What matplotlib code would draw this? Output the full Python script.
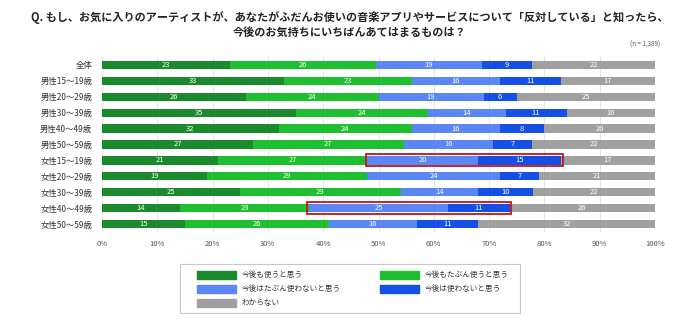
import matplotlib
matplotlib.use("Agg")
import matplotlib.pyplot as plt
from matplotlib.patches import Rectangle
import numpy as np

plt.rcParams['font.family'] = ['Noto Sans CJK JP', 'DejaVu Sans']

categories = ["全体", "男性15～19歳", "男性20～29歳", "男性30～39歳", "男性40～49歳", "男性50～59歳",
              "女性15～19歳", "女性20～29歳", "女性30～39歳", "女性40～49歳", "女性50～59歳"]
series_names = ["今後も使うと思う", "今後もたぶん使うと思う", "今後はたぶん使わないと思う",
                "今後は使わないと思う", "わからない"]
use_yes = [23, 33, 26, 35, 32, 27, 21, 19, 25, 14, 15]
use_maybe = [26, 23, 24, 24, 24, 27, 27, 29, 29, 23, 26]
notuse_maybe = [19, 16, 19, 14, 16, 16, 20, 24, 14, 25, 16]
notuse = [9, 11, 6, 11, 8, 7, 15, 7, 10, 11, 11]
unknown = [22, 17, 25, 16, 20, 22, 17, 21, 22, 26, 32]
xticks = [0, 10, 20, 30, 40, 50, 60, 70, 80, 90, 100]
highlight_rows = ["女性15～19歳", "女性40～49歳"]
highlight_series = [2, 3]

colors = ["#1a8a2c", "#1fbf32", "#5b86f5", "#1450e6", "#a0a0a0"]

data = np.array([use_yes, use_maybe, notuse_maybe, notuse, unknown], dtype=float)
pct = data / data.sum(axis=0) * 100

fig = plt.figure(figsize=(7.0, 3.26), dpi=100)
ax = fig.add_axes([102/700, 1-232/326, 553/700, 175/326])

y = np.arange(len(categories))
left = np.zeros(len(categories))
for i in range(5):
    ax.barh(y, pct[i], left=left, height=0.52, color=colors[i], zorder=2)
    for j in range(len(categories)):
        ax.text(left[j] + pct[i][j]/2, y[j], f"{int(data[i][j])}", ha='center', va='center',
                color='white', fontsize=5.5, zorder=4)
    left = left + pct[i]

cum = np.vstack([np.zeros(len(categories)), np.cumsum(pct, axis=0)])
for name in highlight_rows:
    j = categories.index(name)
    x0 = cum[highlight_series[0]][j]
    x1 = cum[highlight_series[-1] + 1][j]
    ax.add_patch(Rectangle((x0 - 0.3, j - 0.38), x1 - x0 + 0.6, 0.76, fill=False,
                           edgecolor='#c0141c', linewidth=1.3, zorder=5))

ax.set_xlim(0, 100)
ax.set_ylim(len(categories) - 0.5, -0.5)
ax.set_yticks(y)
ax.set_yticklabels(categories, fontsize=6, color='#333333')
ax.set_xticks(xticks)
ax.set_xticklabels([f"{t}%" for t in xticks], fontsize=5.5, color='#555555')
ax.tick_params(length=0, pad=6)
ax.tick_params(axis='y', pad=7)
ax.grid(axis='x', color='#e6e6e6', linewidth=0.7, zorder=0)
for s in ax.spines.values():
    s.set_visible(False)

fig.text(0.5, 1-17/326, "Q. もし、お気に入りのアーティストが、あなたがふだんお使いの音楽アプリやサービスについて「反対している」と知ったら、",
         ha='center', va='center', fontsize=8, fontweight='bold', color='#222222')
fig.text(0.5, 1-32/326, "今後のお気持ちにいちばんあてはまるものは？",
         ha='center', va='center', fontsize=8, fontweight='bold', color='#222222')
fig.text(660/700, 1-45/326, "(n = 1,389)", ha='right', va='center', fontsize=4.5, color='#555555')

# legend box
lax = fig.add_axes([180/700, 1-313/326, 340/700, 49/326])
lax.set_xlim(0, 340)
lax.set_ylim(49, 0)
lax.set_xticks([])
lax.set_yticks([])
for s in lax.spines.values():
    s.set_color('#c8c8c8')
    s.set_linewidth(0.8)
pos = [(17, 11), (200, 11), (17, 25), (200, 25), (17, 39)]
for (px, py), c, name in zip(pos, colors, series_names):
    lax.add_patch(Rectangle((px, py - 4), 39, 8, color=c))
    lax.text(px + 45, py, name, va='center', ha='left', fontsize=5.5, color='#333333')

fig.savefig("out.png", dpi=100)
